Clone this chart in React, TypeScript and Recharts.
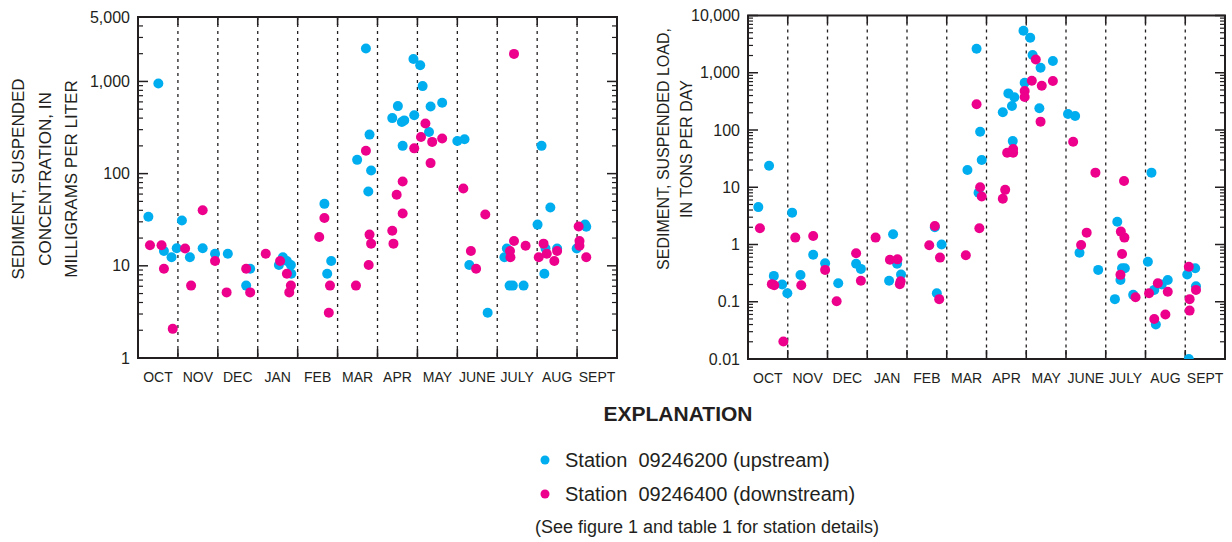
import { ScatterChart, Scatter, XAxis, YAxis, ReferenceLine, ReferenceArea } from 'recharts';

const INK = '#231f20';
const BLUE = '#00aeef';
const PINK = '#ec008c';
const FONT = '"Liberation Sans", Arial, sans-serif';

const months = ['OCT', 'NOV', 'DEC', 'JAN', 'FEB', 'MAR', 'APR', 'MAY', 'JUNE', 'JULY', 'AUG', 'SEPT'];
const monthCenters = months.map((_, i) => i + 0.5);
const monthBounds = [1, 2, 3, 4, 5, 6, 7, 8, 9, 10, 11];

const concTicks = [1, 10, 100, 1000, 5000];
const loadTicks = [0.01, 0.1, 1, 10, 100, 1000, 10000];

// [month position in water year (0 = Oct 1), value]
const concUpstream: [number, number][] = [
  [0.26, 34], [0.51, 950], [0.65, 14.5], [0.84, 12.4], [0.97, 15.5], [1.1, 31], [1.3, 12.4],
  [1.62, 15.5], [1.93, 13.5], [2.25, 13.5], [2.71, 6.1], [2.81, 9.3], [3.53, 10.2], [3.63, 12.4],
  [3.73, 11.3], [3.83, 10.2], [3.84, 8.2], [4.67, 47], [4.74, 8.2], [4.84, 11.3], [5.49, 141],
  [5.71, 2280], [5.77, 64], [5.8, 265], [5.84, 108], [6.37, 400], [6.51, 540], [6.61, 363],
  [6.63, 200], [6.67, 378], [6.9, 1750], [6.92, 429], [7.07, 1500], [7.13, 890], [7.29, 283],
  [7.33, 535], [7.62, 588], [8.0, 226], [8.18, 236], [8.3, 10.2], [8.76, 3.1], [9.18, 12.4],
  [9.24, 15.4], [9.31, 6.1], [9.39, 6.1], [9.66, 6.1], [10.01, 28], [10.11, 200], [10.18, 8.2],
  [10.21, 15.4], [10.33, 43], [10.5, 15.4], [10.99, 15.4], [11.2, 28], [11.23, 26.5],
];

const concDownstream: [number, number][] = [
  [0.3, 16.7], [0.59, 16.7], [0.65, 9.3], [0.87, 2.07], [1.18, 15.4], [1.33, 6.1], [1.62, 40],
  [1.93, 11.3], [2.22, 5.15], [2.71, 9.3], [2.81, 5.15], [3.2, 13.5], [3.56, 11.3], [3.73, 8.2],
  [3.83, 6.1], [3.79, 5.15], [4.54, 20.5], [4.67, 33], [4.78, 3.1], [4.81, 6.1], [5.46, 6.1],
  [5.71, 177], [5.78, 10.2], [5.8, 21.8], [5.84, 17.4], [6.37, 24], [6.4, 17.4], [6.48, 59],
  [6.63, 37], [6.63, 82], [6.92, 188], [7.09, 250], [7.2, 349], [7.33, 130], [7.37, 221],
  [7.62, 240], [8.15, 69], [8.34, 14.5], [8.47, 9.3], [8.7, 36], [9.32, 14.5], [9.33, 12.4],
  [9.42, 18.6], [9.42, 1990], [9.71, 16.5], [10.04, 12.4], [10.16, 17.4], [10.24, 13.5],
  [10.43, 11.3], [10.5, 14.5], [11.04, 26.7], [11.06, 18.6], [11.06, 16.5], [11.23, 12.4],
];

const loadUpstream: [number, number][] = [
  [0.26, 4.5], [0.53, 23.8], [0.65, 0.283], [0.86, 0.2], [0.99, 0.141], [1.11, 3.6], [1.32, 0.293],
  [1.64, 0.66], [1.94, 0.47], [2.27, 0.21], [2.72, 0.46], [2.84, 0.375], [3.55, 0.232], [3.65, 1.51],
  [3.75, 0.46], [3.85, 0.3], [4.7, 2.0], [4.75, 0.141], [4.87, 1.0], [5.52, 20], [5.75, 2620],
  [5.8, 8], [5.84, 93], [5.88, 30], [6.41, 204], [6.55, 436], [6.64, 262], [6.66, 64], [6.7, 372],
  [6.93, 5400], [6.96, 670], [7.1, 4080], [7.16, 2040], [7.33, 239], [7.36, 1225], [7.67, 1600],
  [8.05, 190], [8.23, 175], [8.34, 0.72], [8.81, 0.36], [9.23, 0.111], [9.29, 2.5], [9.37, 0.24],
  [9.41, 0.385], [9.48, 0.385], [9.69, 0.132], [10.06, 0.5], [10.15, 18], [10.22, 0.161],
  [10.26, 0.04], [10.41, 0.2], [10.56, 0.24], [11.05, 0.3], [11.09, 0.01], [11.25, 0.385], [11.27, 0.186],
];

const loadDownstream: [number, number][] = [
  [0.3, 1.92], [0.6, 0.203], [0.66, 0.194], [0.89, 0.0202], [1.19, 1.32], [1.34, 0.194], [1.64, 1.41],
  [1.94, 0.36], [2.23, 0.102], [2.72, 0.705], [2.84, 0.232], [3.21, 1.32], [3.57, 0.54], [3.76, 0.55],
  [3.84, 0.227], [3.82, 0.203], [4.56, 0.97], [4.7, 2.1], [4.83, 0.59], [4.81, 0.111], [5.48, 0.65],
  [5.75, 281], [5.82, 1.92], [5.84, 10], [5.88, 6.9], [6.41, 6.3], [6.47, 9], [6.52, 40], [6.67, 40],
  [6.67, 46.5], [6.96, 480], [6.96, 377], [7.14, 725], [7.24, 1710], [7.36, 140], [7.39, 593],
  [7.67, 716], [8.18, 62.5], [8.38, 0.98], [8.52, 1.61], [8.74, 18], [9.37, 0.295], [9.38, 1.68],
  [9.41, 0.68], [9.46, 12.9], [9.47, 1.32], [9.75, 0.12], [10.09, 0.141], [10.22, 0.05], [10.31, 0.21],
  [10.5, 0.06], [10.56, 0.15], [11.09, 0.41], [11.11, 0.111], [11.11, 0.07], [11.27, 0.161],
];

const toRows = (pts: [number, number][]) => pts.map(([m, v]) => ({ m, v }));

// minor log marks (2..9 x decade) below the top of the axis
const minorMarks = (lo: number, hi: number) => {
  const out: number[] = [];
  for (let d = lo; d < hi; d *= 10) {
    for (let k = 2; k <= 9; k++) {
      const t = Math.round(d * k * 1000) / 1000;
      if (t < hi) out.push(t);
    }
  }
  return out;
};

const dot = (color: string) => (p: any) => <circle cx={p.cx} cy={p.cy} r={5} fill={color} />;
const noLabel = () => <g />;

const monthDivider = (p: any) => {
  const ya = Math.min(p.y1, p.y2);
  const yb = Math.max(p.y1, p.y2);
  return (
    <g>
      <line x1={p.x1} x2={p.x1} y1={ya} y2={yb} stroke={INK} strokeWidth={1.3} strokeDasharray="3 4" />
      <line x1={p.x1} x2={p.x1} y1={ya} y2={ya + 8} stroke={INK} strokeWidth={1.6} />
      <line x1={p.x1} x2={p.x1} y1={yb - 9} y2={yb} stroke={INK} strokeWidth={1.6} />
    </g>
  );
};

interface PanelProps {
  width: number;
  height: number;
  margin: { top: number; right: number; bottom: number; left: number };
  domain: [number, number];
  ticks: number[];
  up: [number, number][];
  down: [number, number][];
}

const Panel = ({ width, height, margin, domain, ticks, up, down }: PanelProps) => {
  const minor = minorMarks(domain[0], domain[1]);
  const logAxis = { type: 'number' as const, scale: 'log' as const, domain, allowDataOverflow: true, interval: 0 };
  return (
    <ScatterChart width={width} height={height} margin={margin}>
      <XAxis
        type="number"
        dataKey="m"
        domain={[0, 12]}
        ticks={monthCenters}
        interval={0}
        tickFormatter={(v: number) => months[Math.floor(v)]}
        tickLine={false}
        axisLine={false}
        tickSize={6}
        tickMargin={8}
        height={30}
        tick={{ fill: INK, fontSize: 14, fontFamily: FONT }}
      />
      {/* labelled axis; negative tick size turns the decade marks inward */}
      <YAxis
        {...logAxis}
        dataKey="v"
        ticks={ticks}
        tickFormatter={(v: number) => v.toLocaleString('en-US')}
        tickLine={{ stroke: INK, strokeWidth: 1.5 }}
        axisLine={false}
        tickSize={-10}
        tickMargin={18}
        width={60}
        tick={{ fill: INK, fontSize: 16, fontFamily: FONT }}
      />
      {/* decade marks on the right edge */}
      <YAxis
        {...logAxis}
        yAxisId="right-major"
        orientation="right"
        ticks={ticks}
        tickFormatter={() => ''}
        tickLine={{ stroke: INK, strokeWidth: 1.5 }}
        axisLine={false}
        tickSize={-10}
        width={20}
      />
      {/* minor marks, mirrored so they sit inside the frame */}
      <YAxis
        {...logAxis}
        yAxisId="left-minor"
        orientation="left"
        mirror
        ticks={minor}
        tick={noLabel}
        tickLine={{ stroke: INK, strokeWidth: 1.2 }}
        axisLine={false}
        tickSize={5}
        width={20}
      />
      <YAxis
        {...logAxis}
        yAxisId="right-minor"
        orientation="right"
        mirror
        ticks={minor}
        tick={noLabel}
        tickLine={{ stroke: INK, strokeWidth: 1.2 }}
        axisLine={false}
        tickSize={5}
        width={20}
      />
      {monthBounds.map((b) => (
        <ReferenceLine key={`b${b}`} x={b} shape={monthDivider} />
      ))}
      <ReferenceArea x1={0} x2={12} y1={domain[0]} y2={domain[1]} fill="none" stroke={INK} strokeWidth={2} fillOpacity={0} />
      <Scatter data={toRows(up)} shape={dot(BLUE)} isAnimationActive={false} />
      <Scatter data={toRows(down)} shape={dot(PINK)} isAnimationActive={false} />
    </ScatterChart>
  );
};

const txt = { fontFamily: FONT, fill: INK } as const;

export default function App() {
  return (
    <div style={{ position: 'absolute', left: 0, top: 0, width: 1232, height: 542, background: '#fff', overflow: 'hidden' }}>
      <div style={{ position: 'absolute', left: 0, top: 0 }}>
        <Panel
          width={640}
          height={400}
          margin={{ top: 17, right: 3, bottom: 12, left: 78 }}
          domain={[1, 5000]}
          ticks={concTicks}
          up={concUpstream}
          down={concDownstream}
        />
      </div>
      <div style={{ position: 'absolute', left: 640, top: 0 }}>
        <Panel
          width={612}
          height={400}
          margin={{ top: 15.5, right: 7, bottom: 11, left: 48 }}
          domain={[0.01, 10000]}
          ticks={loadTicks}
          up={loadUpstream}
          down={loadDownstream}
        />
      </div>
      <svg width={1232} height={542} style={{ position: 'absolute', left: 0, top: 0, pointerEvents: 'none' }}>
        <g transform="translate(18,179) rotate(-90)">
          <text {...txt} fontSize={17} textAnchor="middle" dominantBaseline="central">SEDIMENT, SUSPENDED</text>
        </g>
        <g transform="translate(45,179) rotate(-90)">
          <text {...txt} fontSize={17} textAnchor="middle" dominantBaseline="central">CONCENTRATION, IN</text>
        </g>
        <g transform="translate(71,179) rotate(-90)">
          <text {...txt} fontSize={17} textAnchor="middle" dominantBaseline="central">MILLIGRAMS PER LITER</text>
        </g>
        <g transform="translate(663,149) rotate(-90)">
          <text {...txt} fontSize={16} textAnchor="middle" dominantBaseline="central">SEDIMENT, SUSPENDED LOAD,</text>
        </g>
        <g transform="translate(686,149) rotate(-90)">
          <text {...txt} fontSize={16} textAnchor="middle" dominantBaseline="central">IN TONS PER DAY</text>
        </g>

        <text {...txt} x={678} y={413} fontSize={21} fontWeight="bold" textAnchor="middle" dominantBaseline="central">
          EXPLANATION
        </text>
        <circle cx={545} cy={460} r={4.5} fill={BLUE} />
        <text {...txt} x={565} y={460} fontSize={20} dominantBaseline="central" style={{ whiteSpace: 'pre' }}>
          {'Station  09246200 (upstream)'}
        </text>
        <circle cx={545} cy={494} r={4.5} fill={PINK} />
        <text {...txt} x={565} y={494} fontSize={20} dominantBaseline="central" style={{ whiteSpace: 'pre' }}>
          {'Station  09246400 (downstream)'}
        </text>
        <text {...txt} x={707} y={527} fontSize={18} textAnchor="middle" dominantBaseline="central">
          (See figure 1 and table 1 for station details)
        </text>
      </svg>
    </div>
  );
}
